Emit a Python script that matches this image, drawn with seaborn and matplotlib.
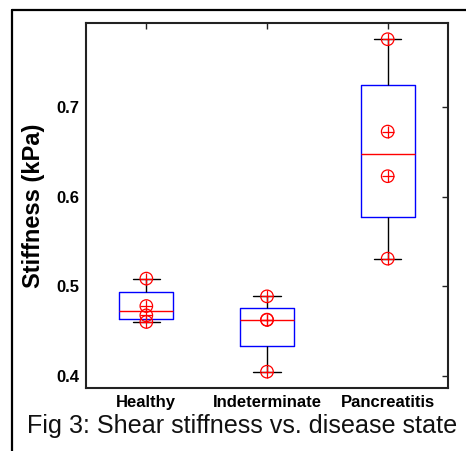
import numpy as np
import pandas as pd
import matplotlib
matplotlib.use("Agg")
import matplotlib.pyplot as plt
from matplotlib.lines import Line2D
from matplotlib.markers import MarkerStyle
import seaborn as sns

# ---- data ----
states = ["Healthy", "Indeterminate", "Pancreatitis"]
healthy = [0.5087, 0.4781, 0.4677, 0.4603]
indeterminate = [0.4889, 0.4629, 0.4626, 0.4048]
pancreatitis = [0.7759, 0.6728, 0.6230, 0.5310]
yticks = [0.4, 0.5, 0.6, 0.7]
ylabel = "Stiffness (kPa)"
caption = "Fig 3: Shear stiffness vs. disease state"

df = pd.DataFrame({
    "state": [states[0]] * len(healthy) + [states[1]] * len(indeterminate) + [states[2]] * len(pancreatitis),
    "stiffness": healthy + indeterminate + pancreatitis,
})

# The reference uses MATLAB-style quartiles ((i-0.5)/n positions) == numpy 'hazen'
_orig_percentile = np.percentile
def _hazen_percentile(a, q, *args, **kwargs):
    kwargs.setdefault("method", "hazen")
    return _orig_percentile(a, q, *args, **kwargs)
np.percentile = _hazen_percentile

sns.set_style("white")
plt.rcParams["font.family"] = ["Liberation Sans", "DejaVu Sans"]
plt.rcParams["text.color"] = "black"
plt.rcParams["axes.labelcolor"] = "black"
plt.rcParams["xtick.color"] = "black"
plt.rcParams["ytick.color"] = "black"

fig = plt.figure(figsize=(4.66, 4.51), dpi=100)
ax = fig.add_axes([86 / 466, 1 - 388 / 451, (448 - 86) / 466, (388 - 23) / 451])

sns.boxplot(
    data=df, x="state", y="stiffness", order=states, ax=ax,
    width=0.45, fill=False, showfliers=False, whis=1.5, linewidth=1.0,
    boxprops=dict(color="#0000FF", linewidth=1.0),
    whiskerprops=dict(color="black", linewidth=1.0),
    capprops=dict(color="black", linewidth=1.0),
    medianprops=dict(color="#FF0000", linewidth=1.0),
)
sns.stripplot(
    data=df, x="state", y="stiffness", order=states, ax=ax,
    jitter=False, marker=MarkerStyle("o", fillstyle="none"), color="#FF0000",
    size=9, linewidth=0.9, zorder=5,
)
sns.stripplot(
    data=df, x="state", y="stiffness", order=states, ax=ax,
    jitter=False, marker="+", color="#FF0000",
    size=9, linewidth=0.9, zorder=5,
)

ax.set_xlim(-0.5, 2.5)
ax.set_ylim(0.3866, 0.794)
ax.set_yticks(yticks)
ax.set_yticklabels([f"{v:.1f}" for v in yticks])
ax.set_xlabel("")
ax.set_ylabel(ylabel, fontsize=17, fontweight="bold", labelpad=8, color="black")
ax.tick_params(axis="both", direction="in", length=4, width=1.0, color="#222222",
               labelcolor="black", top=True, right=True, labelsize=12, pad=5)
for lbl in ax.get_xticklabels() + ax.get_yticklabels():
    lbl.set_fontweight("bold")
for sp in ax.spines.values():
    sp.set_visible(True)
    sp.set_color("#222222")
    sp.set_linewidth(1.5)

# open frame (top and left lines)
fig.add_artist(Line2D([12 / 466, 1.0], [1 - 10 / 451, 1 - 10 / 451], transform=fig.transFigure,
                      color="black", linewidth=1.6))
fig.add_artist(Line2D([12 / 466, 12 / 466], [0.0, 1 - 10 / 451], transform=fig.transFigure,
                      color="black", linewidth=1.6))

fig.text(27 / 466, 1 - 433 / 451, caption, fontsize=18.1, ha="left", va="baseline", color="#111111")

fig.savefig("out.png", dpi=100)
